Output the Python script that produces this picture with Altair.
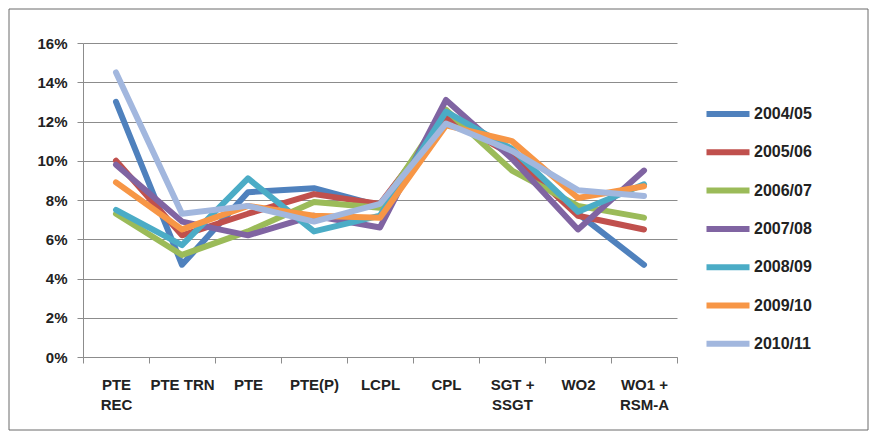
import altair as alt
import pandas as pd

categories = ["PTE\nREC", "PTE TRN", "PTE", "PTE(P)", "LCPL", "CPL", "SGT +\nSSGT", "WO2", "WO1 +\nRSM-A"]
series_names = ["2004/05", "2005/06", "2006/07", "2007/08", "2008/09", "2009/10", "2010/11"]
v2004 = [13.0, 4.7, 8.4, 8.6, 7.7, 12.3, 10.4, 7.3, 4.7]
v2005 = [10.0, 6.2, 7.3, 8.3, 7.8, 12.2, 10.3, 7.2, 6.5]
v2006 = [7.3, 5.2, 6.4, 7.9, 7.6, 12.6, 9.5, 7.7, 7.1]
v2007 = [9.8, 6.9, 6.2, 7.2, 6.6, 13.1, 10.1, 6.5, 9.5]
v2008 = [7.5, 5.7, 9.1, 6.4, 7.2, 12.5, 10.6, 7.4, 8.8]
v2009 = [8.9, 6.5, 7.7, 7.2, 7.1, 11.8, 11.0, 8.1, 8.7]
v2010 = [14.5, 7.3, 7.7, 6.9, 7.8, 11.9, 10.5, 8.5, 8.2]
colors = ["#4F81BD", "#C0504D", "#9BBB59", "#8064A2", "#4BACC6", "#F79646", "#A2B7DE"]
y_ticks = [0, 0.02, 0.04, 0.06, 0.08, 0.10, 0.12, 0.14, 0.16]

all_vals = [v2004, v2005, v2006, v2007, v2008, v2009, v2010]
rows = []
for si, (name, vals) in enumerate(zip(series_names, all_vals)):
    for ci, (c, v) in enumerate(zip(categories, vals)):
        rows.append({"cat": c, "year": name, "value": v / 100.0, "order": si})
df = pd.DataFrame(rows)

FONT = "Liberation Sans"

lines = alt.Chart(df).mark_line(strokeWidth=6, strokeCap="round", strokeJoin="round").encode(
    x=alt.X("cat:N", sort=categories, scale=alt.Scale(type="band", paddingInner=0, paddingOuter=0),
            axis=alt.Axis(title=None, labelAngle=0, grid=False, tickBand="extent", tickSize=6,
                          labelPadding=14, labelExpr="split(datum.label, '\\n')",
                          labelLineHeight=20, domainColor="#8c8c8c", tickColor="#8c8c8c",
                          labelFont=FONT, labelFontSize=15, labelFontWeight="bold",
                          labelColor="#222222")),
    y=alt.Y("value:Q", scale=alt.Scale(domain=[0, 0.16], nice=False),
            axis=alt.Axis(title=None, values=y_ticks, format=".0%", tickSize=6, labelPadding=10,
                          gridColor="#8c8c8c", domainColor="#8c8c8c", tickColor="#8c8c8c",
                          labelFont=FONT, labelFontSize=15, labelFontWeight="bold",
                          labelColor="#222222")),
    color=alt.Color("year:N", sort=series_names,
                    scale=alt.Scale(domain=series_names, range=colors),
                    legend=alt.Legend(title=None, orient="none", legendX=620, legendY=46,
                                      symbolType="stroke", symbolSize=1850, symbolStrokeWidth=6,
                                      labelFont=FONT, labelFontSize=16, labelFontWeight="bold",
                                      labelColor="#222222", labelOffset=1, rowPadding=1.3)),
    order=alt.Order("order:Q"),
    detail="year:N",
)

frame = alt.Chart(pd.DataFrame({"a": [0]})).mark_rect(fill=None, stroke="#6a6a6a", strokeWidth=1).encode(
    x=alt.value(-74), x2=alt.value(785), y=alt.value(-34), y2=alt.value(387)
)

chart = alt.layer(frame, lines).properties(
    width=594, height=314,
    autosize=alt.AutoSizeParams(type="none"),
    padding={"left": 75, "top": 35, "right": 192, "bottom": 74},
    background="white",
).configure_view(stroke=None)

chart.save("out.html", embed_options={"renderer": "svg", "actions": False})
